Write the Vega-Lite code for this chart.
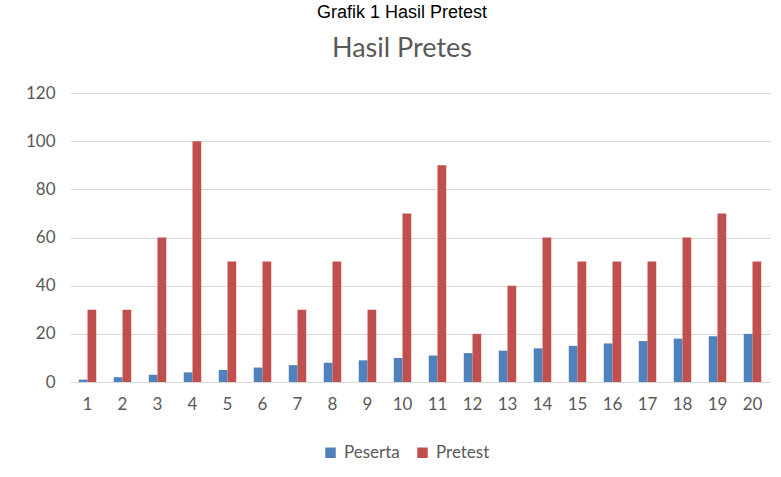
{
  "$schema": "https://vega.github.io/schema/vega-lite/v6.json",
  "autosize": "none",
  "width": 700,
  "height": 289,
  "padding": {"left": 70, "top": 93, "right": 11, "bottom": 95},
  "background": "white",
  "title": {
    "text": "Grafik 1 Hasil Pretest",
    "subtitle": "Hasil Pretes",
    "anchor": "middle",
    "dx": -18,
    "font": "Liberation Sans",
    "fontSize": 18,
    "fontWeight": "normal",
    "color": "#000000",
    "subtitleFont": "Lato",
    "subtitleFontSize": 27,
    "subtitleColor": "#595959",
    "subtitlePadding": 14,
    "offset": 22
  },
  "data": {
    "values": [
      {"no": 1, "series": "Peserta", "value": 1}, {"no": 1, "series": "Pretest", "value": 30},
      {"no": 2, "series": "Peserta", "value": 2}, {"no": 2, "series": "Pretest", "value": 30},
      {"no": 3, "series": "Peserta", "value": 3}, {"no": 3, "series": "Pretest", "value": 60},
      {"no": 4, "series": "Peserta", "value": 4}, {"no": 4, "series": "Pretest", "value": 100},
      {"no": 5, "series": "Peserta", "value": 5}, {"no": 5, "series": "Pretest", "value": 50},
      {"no": 6, "series": "Peserta", "value": 6}, {"no": 6, "series": "Pretest", "value": 50},
      {"no": 7, "series": "Peserta", "value": 7}, {"no": 7, "series": "Pretest", "value": 30},
      {"no": 8, "series": "Peserta", "value": 8}, {"no": 8, "series": "Pretest", "value": 50},
      {"no": 9, "series": "Peserta", "value": 9}, {"no": 9, "series": "Pretest", "value": 30},
      {"no": 10, "series": "Peserta", "value": 10}, {"no": 10, "series": "Pretest", "value": 70},
      {"no": 11, "series": "Peserta", "value": 11}, {"no": 11, "series": "Pretest", "value": 90},
      {"no": 12, "series": "Peserta", "value": 12}, {"no": 12, "series": "Pretest", "value": 20},
      {"no": 13, "series": "Peserta", "value": 13}, {"no": 13, "series": "Pretest", "value": 40},
      {"no": 14, "series": "Peserta", "value": 14}, {"no": 14, "series": "Pretest", "value": 60},
      {"no": 15, "series": "Peserta", "value": 15}, {"no": 15, "series": "Pretest", "value": 50},
      {"no": 16, "series": "Peserta", "value": 16}, {"no": 16, "series": "Pretest", "value": 50},
      {"no": 17, "series": "Peserta", "value": 17}, {"no": 17, "series": "Pretest", "value": 50},
      {"no": 18, "series": "Peserta", "value": 18}, {"no": 18, "series": "Pretest", "value": 60},
      {"no": 19, "series": "Peserta", "value": 19}, {"no": 19, "series": "Pretest", "value": 70},
      {"no": 20, "series": "Peserta", "value": 20}, {"no": 20, "series": "Pretest", "value": 50}
    ]
  },
  "mark": {"type": "bar"},
  "encoding": {
    "x": {
      "field": "no", "type": "ordinal",
      "scale": {"paddingInner": 0.5, "paddingOuter": 0.25},
      "axis": {"title": null, "labelAngle": 0, "ticks": false, "domainColor": "#d9d9d9", "labelPadding": 14}
    },
    "xOffset": {"field": "series", "type": "nominal"},
    "y": {
      "field": "value", "type": "quantitative",
      "scale": {"domain": [0, 120]},
      "axis": {"title": null, "values": [0, 20, 40, 60, 80, 100, 120], "domain": false, "ticks": false, "labelPadding": 15, "gridColor": "#d9d9d9"}
    },
    "color": {
      "field": "series", "type": "nominal",
      "scale": {"domain": ["Peserta", "Pretest"], "range": ["#4F81BD", "#C0504D"]},
      "legend": {"title": null, "orient": "none", "legendX": 252, "legendY": 351, "direction": "horizontal", "symbolType": "square", "symbolSize": 110, "columnPadding": 14, "labelOffset": 5}
    }
  },
  "config": {
    "view": {"stroke": null},
    "axis": {"labelFont": "Lato", "labelFontSize": 17, "labelColor": "#595959"},
    "legend": {"labelFont": "Lato", "labelFontSize": 17, "labelColor": "#595959"}
  }
}
